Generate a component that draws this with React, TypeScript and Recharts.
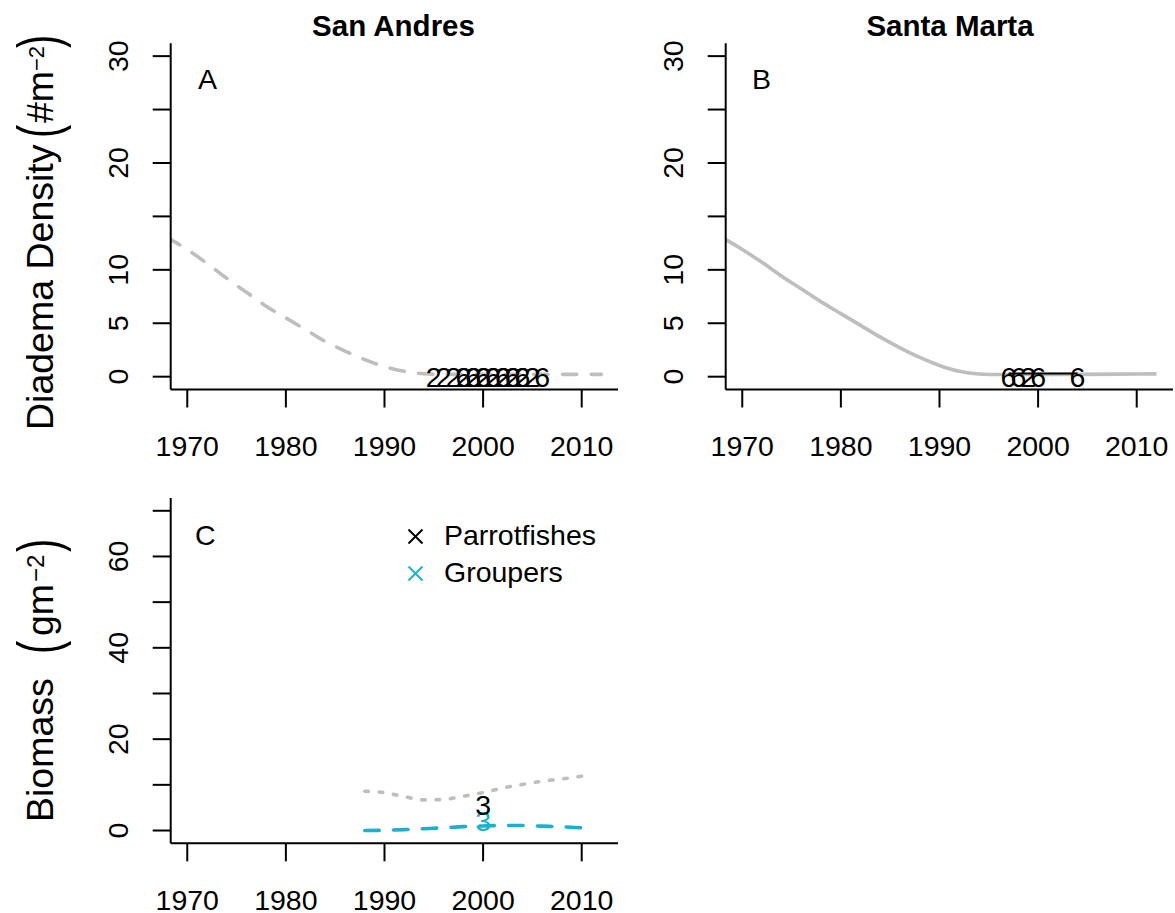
import React from 'react';
import { LineChart, Line, XAxis, YAxis } from 'recharts';

const FONT = '"Liberation Sans", Arial, Helvetica, sans-serif';
const GRAY = '#BEBEBE';
const CYAN = '#1BB1CE';
const FS = 28.5;

// ---- axes ----
const yearDomain: [number, number] = [1968.32, 2013.68];
const yearTicks = [1970, 1980, 1990, 2000, 2010];
const densityDomain: [number, number] = [-1.2, 31.2];
const densityTicks = [0, 5, 10, 15, 20, 25, 30];
const densityLabels = [0, 5, 10, 20, 30];
const biomassDomain: [number, number] = [-2.8, 72.8];
const biomassTicks = [0, 10, 20, 30, 40, 50, 60, 70];
const biomassLabels = [0, 20, 40, 60];

// ---- Panel A: San Andres (fitted Diadema density, dashed) ----
const fitYearsA = [1968, 1970, 1972, 1974, 1976, 1978, 1980, 1982, 1984, 1986, 1988, 1990, 1992, 1994, 1996, 1998, 2000, 2004, 2008, 2012];
const fitValuesA = [13.0, 11.9, 10.6, 9.2, 7.9, 6.6, 5.5, 4.4, 3.3, 2.4, 1.6, 0.95, 0.5, 0.28, 0.22, 0.22, 0.22, 0.22, 0.22, 0.22];
const obsYearsA = [1995, 1996, 1997, 1998, 1999, 2000, 2001, 2002, 2003, 2004, 2005, 1998, 1999, 2000, 2001, 2002, 2003, 2004, 2006];
const obsValuesA = [0.3, 0.3, 0.3, 0.3, 0.3, 0.3, 0.3, 0.3, 0.3, 0.3, 0.3, 0.3, 0.3, 0.3, 0.3, 0.3, 0.3, 0.3, 0.3];
const obsLabelsA = ['2', '2', '2', '2', '2', '2', '2', '2', '2', '2', '2', '6', '6', '6', '6', '6', '6', '6', '6'];

// ---- Panel B: Santa Marta (fitted Diadema density, solid) ----
const fitYearsB = [1968, 1970, 1972, 1974, 1976, 1978, 1980, 1982, 1984, 1986, 1988, 1990, 1992, 1994, 1996, 1998, 2000, 2004, 2008, 2012];
const fitValuesB = [13.0, 11.9, 10.7, 9.4, 8.2, 7.0, 5.9, 4.8, 3.7, 2.7, 1.8, 1.05, 0.5, 0.25, 0.2, 0.2, 0.2, 0.22, 0.24, 0.26];
const obsYearsB = [1997, 1998, 1999, 2000, 2004];
const obsValuesB = [0.3, 0.3, 0.3, 0.3, 0.3];
const obsLabelsB = ['6', '6', '2', '6', '6'];

// ---- Panel C: San Andres biomass ----
const fishYears = [1988, 1990, 1992, 1994, 1996, 1998, 2000, 2002, 2004, 2006, 2008, 2010, 2011];
const parrotValues = [8.6, 8.3, 7.4, 6.7, 6.8, 7.5, 8.3, 9.3, 10.1, 10.8, 11.3, 11.9, 12.2];
const grouperValues = [0.0, 0.05, 0.2, 0.4, 0.6, 0.85, 1.0, 1.1, 1.1, 0.95, 0.8, 0.6, 0.5];
const parrotObsYears = [2000];
const parrotObsValues = [6.3];
const parrotObsLabels = ['3'];
const grouperObsYears = [2000];
const grouperObsValues = [2.9];
const grouperObsLabels = ['3'];

const toPts = (xs: number[], ys: number[], labels?: string[]) =>
  xs.map((x, i) => ({ x, y: ys[i], label: labels ? labels[i] : undefined }));

const textDot = (color: string) => (props: any) => {
  const { cx, cy, payload, index } = props;
  if (cx == null || cy == null) return <g key={`e${index}`} />;
  return (
    <text key={`t${index}`} x={cx} y={cy + 13.5} textAnchor="middle" fontSize={FS} fontFamily={FONT} fill={color}>
      {payload.label}
    </text>
  );
};

const XTick = (props: any) => {
  const { x, y, payload } = props;
  return (
    <text x={x} y={y + 48.5} textAnchor="middle" fontSize={FS} fontFamily={FONT} fill="#000">
      {payload.value}
    </text>
  );
};

const makeYTick = (labels: number[]) => (props: any) => {
  const { x, y, payload } = props;
  if (!labels.includes(payload.value)) return <g />;
  const bx = x - 25;
  return (
    <text x={bx} y={y} transform={`rotate(-90 ${bx} ${y})`} textAnchor="middle" fontSize={FS} fontFamily={FONT} fill="#000">
      {payload.value}
    </text>
  );
};

const axisLineStyle = { stroke: '#000', strokeWidth: 2 };

function xAxisEl() {
  return (
    <XAxis
      dataKey="x"
      type="number"
      domain={yearDomain}
      allowDataOverflow
      ticks={yearTicks}
      interval={0}
      tickSize={18}
      tickMargin={0}
      height={60}
      stroke="#000"
      axisLine={axisLineStyle}
      tickLine={axisLineStyle}
      tick={XTick}
    />
  );
}

function yAxisEl(domain: [number, number], ticks: number[], labels: number[]) {
  return (
    <YAxis
      type="number"
      domain={domain}
      allowDataOverflow
      ticks={ticks}
      interval={0}
      tickSize={18}
      tickMargin={0}
      width={60}
      stroke="#000"
      axisLine={axisLineStyle}
      tickLine={axisLineStyle}
      tick={makeYTick(labels)}
    />
  );
}

const fitA = toPts(fitYearsA, fitValuesA);
const obsA = toPts(obsYearsA, obsValuesA, obsLabelsA);
const fitB = toPts(fitYearsB, fitValuesB);
const obsB = toPts(obsYearsB, obsValuesB, obsLabelsB);
const parrotFit = toPts(fishYears, parrotValues);
const grouperFit = toPts(fishYears, grouperValues);
const parrotObs = toPts(parrotObsYears, parrotObsValues, parrotObsLabels);
const grouperObs = toPts(grouperObsYears, grouperObsValues, grouperObsLabels);

const Paren = ({ x, ch }: { x: number; ch: string }) => (
  <text transform={`translate(${x} 6) scale(1.05 1.6)`} x={0} y={0} fontSize={37.5}>{ch}</text>
);

export default function App() {
  return (
    <div style={{ position: 'absolute', left: 0, top: 0, width: 1175, height: 913, background: '#fff', overflow: 'hidden' }}>
      {/* Panel A */}
      <div style={{ position: 'absolute', left: 0, top: 0 }}>
        <LineChart width={640} height={470} margin={{ top: 43.3, right: 22, bottom: 20.5, left: 110.7 }}>
          {xAxisEl()}
          {yAxisEl(densityDomain, densityTicks, densityLabels)}
          <Line data={fitA} dataKey="y" type="monotone" stroke={GRAY} strokeWidth={3.6} strokeDasharray="14.4 14.4" strokeLinecap="round" dot={false} activeDot={false} isAnimationActive={false} />
          <Line data={obsA} dataKey="y" stroke="none" dot={textDot('#000')} activeDot={false} isAnimationActive={false} />
        </LineChart>
      </div>
      {/* Panel B */}
      <div style={{ position: 'absolute', left: 555, top: 0 }}>
        <LineChart width={620} height={470} margin={{ top: 43.3, right: 2, bottom: 20.5, left: 110.7 }}>
          {xAxisEl()}
          {yAxisEl(densityDomain, densityTicks, densityLabels)}
          <Line data={fitB} dataKey="y" type="monotone" stroke={GRAY} strokeWidth={3.6} dot={false} activeDot={false} isAnimationActive={false} />
          <Line data={obsB} dataKey="y" stroke="#000" strokeWidth={2} dot={textDot('#000')} activeDot={false} isAnimationActive={false} />
        </LineChart>
      </div>
      {/* Panel C */}
      <div style={{ position: 'absolute', left: 0, top: 455 }}>
        <LineChart width={640} height={458} margin={{ top: 43, right: 22, bottom: 9.7, left: 110.7 }}>
          {xAxisEl()}
          {yAxisEl(biomassDomain, biomassTicks, biomassLabels)}
          <Line data={parrotFit} dataKey="y" type="monotone" stroke={GRAY} strokeWidth={3.6} strokeDasharray="3.6 10.8" strokeLinecap="round" dot={false} activeDot={false} isAnimationActive={false} />
          <Line data={grouperFit} dataKey="y" type="monotone" stroke={CYAN} strokeWidth={3.6} strokeDasharray="14.4 14.4" strokeLinecap="round" dot={false} activeDot={false} isAnimationActive={false} />
          <Line data={grouperObs} dataKey="y" stroke="none" dot={textDot(CYAN)} activeDot={false} isAnimationActive={false} />
          <Line data={parrotObs} dataKey="y" stroke="none" dot={textDot('#000')} activeDot={false} isAnimationActive={false} />
        </LineChart>
      </div>
      {/* Text overlay: titles, axis titles, panel letters, legend */}
      <svg width={1175} height={913} style={{ position: 'absolute', left: 0, top: 0, pointerEvents: 'none' }} fontFamily={FONT} fill="#000">
        <text x={393.5} y={36} textAnchor="middle" fontSize={29.5} fontWeight="bold">San Andres</text>
        <text x={950} y={36} textAnchor="middle" fontSize={29.5} fontWeight="bold">Santa Marta</text>

        <text x={198} y={88.5} fontSize={FS}>A</text>
        <text x={752} y={88.5} fontSize={FS}>B</text>
        <text x={195} y={545} fontSize={FS}>C</text>

        <g transform="translate(53 430) rotate(-90)">
          <text x={0} y={0} fontSize={37.5}>Diadema Density</text>
          <Paren x={292} ch="(" />
          <text x={307} y={0} fontSize={37.5}>#m</text>
          <text x={359} y={-9} fontSize={22}>−2</text>
          <Paren x={382} ch=")" />
        </g>
        <g transform="translate(53 822) rotate(-90)">
          <text x={0} y={0} fontSize={37.5}>Biomass</text>
          <Paren x={168} ch="(" />
          <text x={186} y={0} fontSize={37.5}>gm</text>
          <text x={240} y={-9} fontSize={24}>−2</text>
          <Paren x={270} ch=")" />
        </g>

        <g stroke="#000" strokeWidth={2}>
          <line x1={408.5} y1={529.5} x2={422.5} y2={543.5} />
          <line x1={408.5} y1={543.5} x2={422.5} y2={529.5} />
        </g>
        <text x={444} y={545} fontSize={FS}>Parrotfishes</text>
        <g stroke={CYAN} strokeWidth={2}>
          <line x1={408.5} y1={566.5} x2={422.5} y2={580.5} />
          <line x1={408.5} y1={580.5} x2={422.5} y2={566.5} />
        </g>
        <text x={444} y={582} fontSize={FS}>Groupers</text>
      </svg>
    </div>
  );
}
